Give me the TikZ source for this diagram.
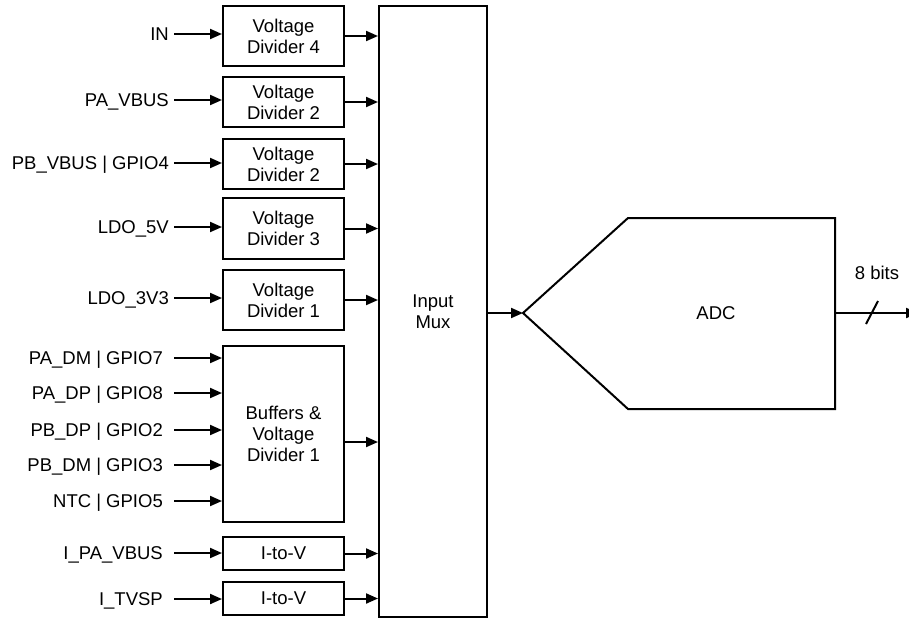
\documentclass[tikz,border=0pt]{standalone}
\usepackage{fontspec}
\setmainfont{Liberation Sans}
\usetikzlibrary{arrows.meta,positioning,calc}
\definecolor{ink}{HTML}{000000}
\tikzset{
  divbox/.style={draw=ink,fill=white,line width=2pt,
                 minimum width=121pt,align=center,
                 font=\fontsize{18.5}{21}\selectfont,inner sep=2pt},
  muxbox/.style={divbox,minimum width=108pt,minimum height=611pt},
  pinlbl/.style={anchor=east,inner ysep=0pt,inner xsep=5pt,
                 text height=13.2pt,text depth=0pt,
                 font=\fontsize{18.5}{21}\selectfont},
  pinlblw/.style={pinlbl,inner xsep=11pt},
  sigarr/.style={-{Triangle[length=12pt,width=10pt]},line width=2pt,draw=ink},
  plainln/.style={line width=2pt,draw=ink,line join=miter}
}

\begin{document}
\begin{tikzpicture}[x=1pt,y=-1pt]
  \useasboundingbox (0,0) rectangle (909,619);
  % dividers and converters
  \node[divbox,minimum height=60pt] (vd4) at (283.5,36) {Voltage\\Divider 4};
  \node[divbox,minimum height=50pt] (vd2a) at (283.5,102) {Voltage\\Divider 2};
  \node[divbox,minimum height=50pt] (vd2b) at (283.5,164) {Voltage\\Divider 2};
  \node[divbox,minimum height=61pt] (vd3) at (283.5,228.5) {Voltage\\Divider 3};
  \node[divbox,minimum height=60pt] (vd1) at (283.5,300) {Voltage\\Divider 1};
  \node[divbox,minimum height=176pt] (buf) at (283.5,434) {Buffers \&\\Voltage\\Divider 1};
  \node[divbox,minimum height=33pt] (itva) at (283.5,553.5) {I-to-V};
  \node[divbox,minimum height=33pt] (itvb) at (283.5,598.5) {I-to-V};
  \node[muxbox] (mux) at (433,311.5) {Input\\Mux};

  % input pins
  \node[pinlbl] (pin) at (174,34) {IN};
  \node[pinlbl] (pavbus) at (174,100) {PA\_VBUS};
  \node[pinlbl] (pbvbus) at (174,163) {PB\_VBUS | GPIO4};
  \node[pinlbl] (ldofive) at (174,227) {LDO\_5V};
  \node[pinlbl] (ldothree) at (174,298) {LDO\_3V3};
  \node[pinlblw] (padm) at (174,358) {PA\_DM | GPIO7};
  \node[pinlblw] (padp) at (174,393) {PA\_DP | GPIO8};
  \node[pinlblw] (pbdp) at (174,430) {PB\_DP | GPIO2};
  \node[pinlblw] (pbdm) at (174,465) {PB\_DM | GPIO3};
  \node[pinlblw] (ntc) at (174,501) {NTC | GPIO5};
  \node[pinlblw] (ipavbus) at (174,553) {I\_PA\_VBUS};
  \node[pinlblw] (itvsp) at (174,599) {I\_TVSP};

  \draw[sigarr] (pin.east) -- (pin.east -| vd4.west);
  \draw[sigarr] (pavbus.east) -- (pavbus.east -| vd2a.west);
  \draw[sigarr] (pbvbus.east) -- (pbvbus.east -| vd2b.west);
  \draw[sigarr] (ldofive.east) -- (ldofive.east -| vd3.west);
  \draw[sigarr] (ldothree.east) -- (ldothree.east -| vd1.west);
  \draw[sigarr] (padm.east) -- (padm.east -| buf.west);
  \draw[sigarr] (padp.east) -- (padp.east -| buf.west);
  \draw[sigarr] (pbdp.east) -- (pbdp.east -| buf.west);
  \draw[sigarr] (pbdm.east) -- (pbdm.east -| buf.west);
  \draw[sigarr] (ntc.east) -- (ntc.east -| buf.west);
  \draw[sigarr] (ipavbus.east) -- (ipavbus.east -| itva.west);
  \draw[sigarr] (itvsp.east) -- (itvsp.east -| itvb.west);

  % into the mux
  \coordinate (bufout) at ($(buf.east)+(0,8)$);
  \draw[sigarr] (vd4.east) -- (vd4.east -| mux.west);
  \draw[sigarr] (vd2a.east) -- (vd2a.east -| mux.west);
  \draw[sigarr] (vd2b.east) -- (vd2b.east -| mux.west);
  \draw[sigarr] (vd3.east) -- (vd3.east -| mux.west);
  \draw[sigarr] (vd1.east) -- (vd1.east -| mux.west);
  \draw[sigarr] (bufout) -- (bufout -| mux.west);
  \draw[sigarr] (itva.east) -- (itva.east -| mux.west);
  \draw[sigarr] (itvb.east) -- (itvb.east -| mux.west);

  % ADC
  \coordinate (adctip) at (523,313);
  \coordinate (adcout) at (835,313);
  \coordinate (busend) at (918,313);
  \draw[plainln] (adctip) -- (628,218) -- (835,218) -- (835,409) -- (628,409) -- cycle;
  \node[font=\fontsize{18.5}{21}\selectfont] (adc) at (716,313) {ADC};
  \draw[sigarr] (mux.east |- adctip) -- (adctip);
  \draw[sigarr] (adcout) -- (busend);
  \draw[plainln] (866,324) -- (878,301);
  \node[font=\fontsize{18.5}{21}\selectfont] (bits) at (877,273) {8 bits};
\end{tikzpicture}
\end{document}
